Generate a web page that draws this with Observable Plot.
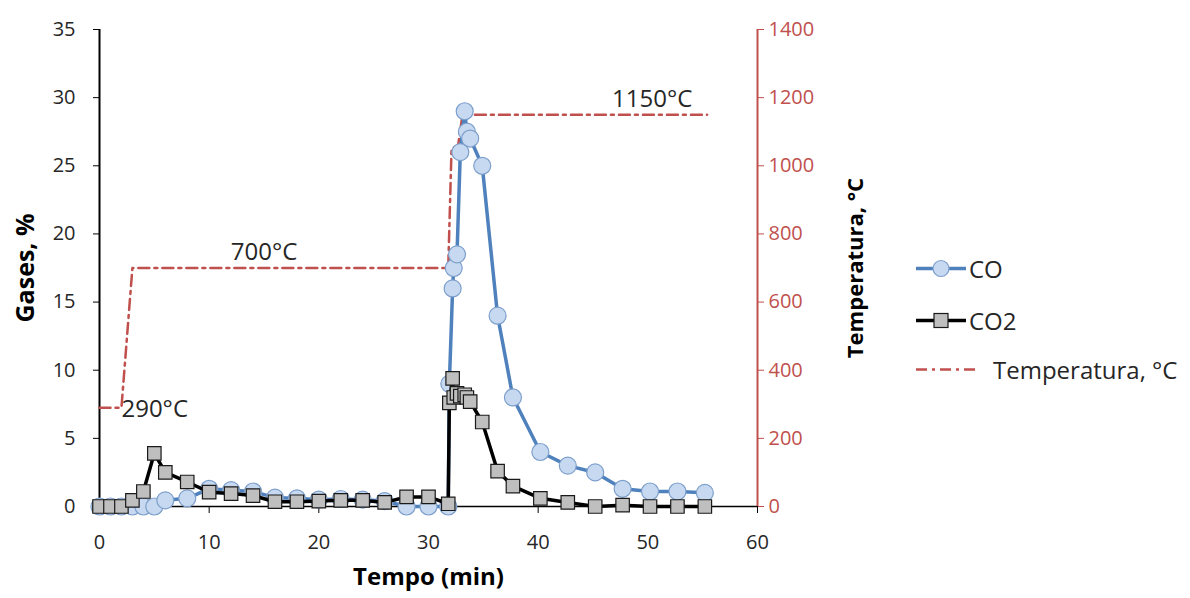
<!DOCTYPE html>
<html>
<head>
<meta charset="utf-8">
<script src="https://cdn.jsdelivr.net/npm/d3@7"></script>
<script src="https://cdn.jsdelivr.net/npm/@observablehq/plot@0.6"></script>
<style>
  body { margin: 0; background: #fff; }
  #wrap { position: relative; width: 1190px; height: 598px; font-family: 'Open Sans', sans-serif; }
  #legend { position: absolute; left: 915px; top: 0; font-size: 24px; color: #262626; }
  .item { position: absolute; left: 0; display: flex; align-items: center; white-space: nowrap; transform: translateY(-50%); }
  .item svg { margin-right: 2px; }
</style>
</head>
<body>
<div id="wrap"><div id="legend"></div></div>
<script>
// Time (min) shared by CO and CO2 series
const time = [0,1,2,3,4,5,6,8,10,12,14,16,18,20,22,24,26,28,30,31.8,31.9,32.2,32.3,32.6,32.9,33.3,33.5,33.8,34.9,36.3,37.7,40.2,42.7,45.2,47.7,50.2,52.7,55.2];
const co  = [0,0,0,0,0,0,0.45,0.6, 1.3,1.2,1.1,0.65,0.6,0.5,0.55,0.5,0.4,0,0, 0,9,16,17.5,18.5,26,29,27.5,27,25, 14,8,4,3,2.5,1.3,1.1,1.1,1.0];
const co2 = [0,0,0,0.45,1.1,3.9,2.5,1.8, 1.05,0.95,0.8,0.35,0.35,0.4,0.45,0.45,0.3,0.7,0.7, 0.2,7.6,9.4,8.0,8.3,8.1,8.2,8.0,7.7,6.2, 2.6,1.5,0.6,0.3,0,0.1,0,0,0];

// Temperature profile (°C)
const tempTime = [0,2,3,31.8,32.1,32.7,33.1,55.4];
const tempVal  = [290,290,700,700,1050,1060,1150,1150];

// Temperature annotations
const annoText = ["290°C","700°C","1150°C"];
const annoTime = [2,15,50.4];
const annoTemp = [290,700,1150];

// Ticks
const xTicks = [0,10,20,30,40,50,60];
const yTicks = [0,5,10,15,20,25,30,35];
const tempTicks = [0,200,400,600,800,1000,1200,1400];
const tempScale = 40; // 1400 °C maps onto 35 %

const seriesNames = ["CO","CO2","Temperatura, °C"];

const blue = "#4f81bd", blueFill = "#c6d9f1", blueStroke = "#7d9fcb";
const red = "#c0504d";
const dash = "11,5,3,5";

const gas = time.map((t,i) => ({t, co: co[i], co2: co2[i]}));
const temp = tempTime.map((t,i) => ({t, v: tempVal[i] / tempScale}));
const anno = annoText.map((s,i) => ({s, t: annoTime[i], v: annoTemp[i] / tempScale}));

const chart = Plot.plot({
  width: 1190, height: 598,
  marginLeft: 99, marginRight: 433, marginTop: 29, marginBottom: 92,
  x: {domain: [0,60]},
  y: {domain: [0,35]},
  style: {fontFamily: "'Open Sans', sans-serif", fontSize: "20px", color: "#262626", background: "white", overflow: "visible"},
  marks: [
    Plot.axisX({ticks: xTicks, tickSize: 7, tickPadding: 21, stroke: "#000", label: null}),
    Plot.axisY({anchor: "left", ticks: yTicks, tickSize: 6, tickPadding: 18, stroke: "#000", label: null}),
    Plot.axisY({anchor: "right", ticks: tempTicks.map(v => v / tempScale), tickFormat: d => String(Math.round(d * tempScale)), tickSize: 6, tickPadding: 5, stroke: red, fill: red, color: red, label: null}),
    Plot.ruleX([0], {stroke: "#000", strokeWidth: 2}),
    Plot.ruleY([0], {stroke: "#000", strokeWidth: 1.5}),
    Plot.ruleX([60], {stroke: red, strokeWidth: 2}),
    // temperature
    Plot.line(temp, {x: "t", y: "v", stroke: red, strokeWidth: 2.5, strokeDasharray: dash}),
    Plot.text(anno, {x: "t", y: "v", text: "s", fill: "#262626", fontSize: 24}),
    // CO
    Plot.line(gas, {x: "t", y: "co", stroke: blue, strokeWidth: 3.5}),
    Plot.dot(gas, {x: "t", y: "co", r: 8.5, fill: blueFill, stroke: blueStroke, strokeWidth: 1.2}),
    // CO2
    Plot.line(gas, {x: "t", y: "co2", stroke: "#000", strokeWidth: 3.5}),
    Plot.dot(gas, {x: "t", y: "co2", symbol: "square", r: 7.6, fill: "#bfbfbf", stroke: "#1a1a1a", strokeWidth: 1.2}),
    // axis titles
    Plot.text(["Tempo (min)"], {frameAnchor: "bottom", textAnchor: "middle", dy: 78, text: d => d, fontWeight: "bold", fontSize: 24, fill: "#000"}),
    Plot.text(["Gases, %"], {frameAnchor: "left", textAnchor: "middle", dx: -74, rotate: -90, text: d => d, fontWeight: "bold", fontSize: 25, fill: "#000"}),
    Plot.text(["Temperatura, °C"], {frameAnchor: "right", textAnchor: "middle", dx: 98, rotate: -90, text: d => d, fontWeight: "bold", fontSize: 22, fill: "#000"})
  ]
});
document.getElementById("wrap").prepend(chart);

// Annotation anchors/offsets (start for 290, middle otherwise)
{
  chart.querySelectorAll("text").forEach(el => {
    const s = el.textContent;
    const tr = el.getAttribute("transform") || "";
    if (s === annoText[0]) { el.setAttribute("text-anchor", "start"); el.setAttribute("transform", tr + " translate(0,2)"); }
    if (s === annoText[1]) { el.setAttribute("transform", tr + " translate(0,-16)"); }
    if (s === annoText[2]) { el.setAttribute("transform", tr + " translate(0,-15)"); }
  });
}

// Legend
const legend = document.getElementById("legend");
const rows = [268, 320, 369];
const swatches = [
  `<svg width="52" height="20"><line x1="1" x2="51" y1="10" y2="10" stroke="${blue}" stroke-width="3.5"/><circle cx="26" cy="10" r="8" fill="${blueFill}" stroke="${blueStroke}" stroke-width="1.2"/></svg>`,
  `<svg width="52" height="20"><line x1="1" x2="51" y1="10" y2="10" stroke="#000" stroke-width="3.5"/><rect x="19" y="3" width="14" height="14" fill="#bfbfbf" stroke="#1a1a1a" stroke-width="1.2"/></svg>`,
  `<svg width="76" height="20"><line x1="1" x2="62" y1="10" y2="10" stroke="${red}" stroke-width="2.5" stroke-dasharray="${dash}"/></svg>`
];
seriesNames.forEach((name, i) => {
  const d = document.createElement("div");
  d.className = "item";
  d.style.top = rows[i] + "px";
  d.innerHTML = swatches[i] + `<span>${name}</span>`;
  legend.appendChild(d);
});
</script>
</body>
</html>
